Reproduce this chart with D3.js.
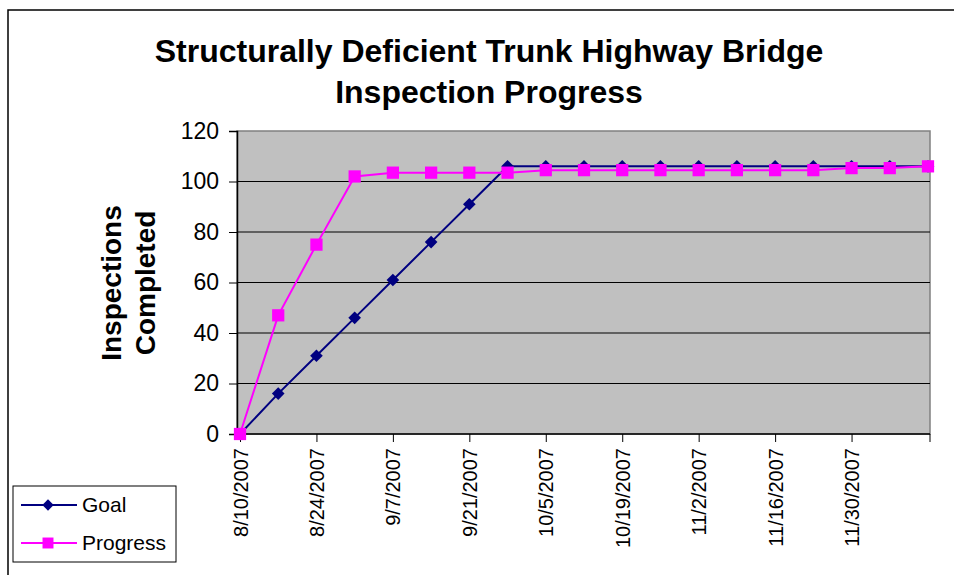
<!DOCTYPE html>
<html>
<head>
<meta charset="utf-8">
<script src="https://cdn.jsdelivr.net/npm/d3@7"></script>
<style>
  html, body { margin: 0; padding: 0; background: #fff; }
  svg { display: block; font-family: Arial, "Liberation Sans", sans-serif; }
</style>
</head>
<body>
<svg id="chart" width="954" height="575"></svg>
<script>
// weekly dates, 8/10/2007 .. 12/14/2007
const dates = ['2007-08-10', '2007-08-17', '2007-08-24', '2007-08-31', '2007-09-07',
  '2007-09-14', '2007-09-21', '2007-09-28', '2007-10-05', '2007-10-12', '2007-10-19',
  '2007-10-26', '2007-11-02', '2007-11-09', '2007-11-16', '2007-11-23', '2007-11-30',
  '2007-12-07', '2007-12-14'];
const goal = [0, 16, 31, 46, 61, 76, 91, 106, 106, 106, 106, 106, 106, 106, 106, 106, 106, 106, 106];
const progress = [0, 47, 75, 102, 103.5, 103.5, 103.5, 103.5, 104.5, 104.5, 104.5, 104.5,
  104.5, 104.5, 104.5, 104.5, 105.3, 105.3, 106];
const xTickLabels = ['8/10/2007', '8/24/2007', '9/7/2007', '9/21/2007', '10/5/2007',
  '10/19/2007', '11/2/2007', '11/16/2007', '11/30/2007'];
const yTicks = [0, 20, 40, 60, 80, 100, 120];

const parse = d3.timeParse('%Y-%m-%d');
const parseLabel = d3.timeParse('%m/%d/%Y');

const svg = d3.select('#chart');
const plot = { left: 237, right: 930, top: 131, bottom: 434 };

const x = d3.scaleTime()
  .domain([parse(dates[0]), parse(dates[dates.length - 1])])
  .range([240, 928]);
const y = d3.scaleLinear().domain([0, 120]).range([plot.bottom, plot.top]);

// outer chart frame (cropped at right/bottom)
svg.append('path')
  .attr('d', 'M8,575 L8,10 L954,10')
  .attr('fill', 'none')
  .attr('stroke', '#000')
  .attr('stroke-width', 1.5);

// title
const title = svg.append('text')
  .attr('text-anchor', 'middle')
  .attr('font-weight', 'bold')
  .attr('font-size', 32)
  .attr('fill', '#000');
title.append('tspan').attr('x', 489).attr('y', 62).text('Structurally Deficient Trunk Highway Bridge');
title.append('tspan').attr('x', 489).attr('y', 103).text('Inspection Progress');

// plot background
svg.append('rect')
  .attr('x', plot.left).attr('y', plot.top)
  .attr('width', plot.right - plot.left).attr('height', plot.bottom - plot.top)
  .attr('fill', '#c0c0c0')
  .attr('stroke', '#808080')
  .attr('stroke-width', 1.5);

// gridlines
svg.append('g')
  .selectAll('line')
  .data(yTicks.filter(d => d > 0 && d < 120))
  .join('line')
  .attr('x1', plot.left).attr('x2', plot.right)
  .attr('y1', d => y(d)).attr('y2', d => y(d))
  .attr('stroke', '#000')
  .attr('stroke-width', 1);

// y axis
const yAxis = svg.append('g')
  .attr('transform', `translate(${plot.left},0)`)
  .call(d3.axisLeft(y).tickValues(yTicks).tickSize(8).tickPadding(10));
yAxis.select('.domain').attr('stroke', '#000').attr('stroke-width', 1.5);
yAxis.selectAll('text').attr('font-size', 23).attr('fill', '#000').attr('font-family', null);

// x axis
const tickDates = xTickLabels.map(parseLabel);
const xAxis = svg.append('g')
  .attr('transform', `translate(0,${plot.bottom})`)
  .call(d3.axisBottom(x).tickValues(tickDates).tickSize(8).tickFormat(d3.timeFormat('%-m/%-d/%Y')));
xAxis.select('.domain')
  .attr('d', `M${plot.left},0H${plot.right}`)
  .attr('stroke', '#000').attr('stroke-width', 1.5);
xAxis.append('line')
  .attr('x1', plot.right).attr('x2', plot.right)
  .attr('y1', 0).attr('y2', 8)
  .attr('stroke', '#000');
xAxis.selectAll('.tick text')
  .attr('font-size', 20)
  .attr('fill', '#000')
  .attr('font-family', null)
  .attr('text-anchor', 'end')
  .attr('dy', null)
  .attr('y', 0)
  .attr('transform', 'translate(7,14) rotate(-90)');

// y axis title
const yTitle = svg.append('text')
  .attr('transform', 'translate(128,283) rotate(-90)')
  .attr('text-anchor', 'middle')
  .attr('font-weight', 'bold')
  .attr('font-size', 28)
  .attr('fill', '#000');
yTitle.append('tspan').attr('x', 0).attr('y', -7).text('Inspections');
yTitle.append('tspan').attr('x', 0).attr('y', 27).text('Completed');

// series
const series = [
  { name: 'Goal', values: goal, color: '#000080', symbol: d3.symbolSquare, size: 80, rotate: 45 },
  { name: 'Progress', values: progress, color: '#ff00ff', symbol: d3.symbolSquare, size: 150, rotate: 0 }
];

const line = d3.line()
  .x((d, i) => x(parse(dates[i])))
  .y(d => y(d));

series.forEach(s => {
  const g = svg.append('g');
  g.append('path')
    .attr('d', line(s.values))
    .attr('fill', 'none')
    .attr('stroke', s.color)
    .attr('stroke-width', 2);
  g.selectAll('path.marker')
    .data(s.values)
    .join('path')
    .attr('class', 'marker')
    .attr('transform', (d, i) => `translate(${x(parse(dates[i]))},${y(d)}) rotate(${s.rotate})`)
    .attr('d', d3.symbol().type(s.symbol).size(s.size))
    .attr('fill', s.color);
});

// legend
const legend = svg.append('g');
legend.append('rect')
  .attr('x', 13).attr('y', 486)
  .attr('width', 163).attr('height', 76)
  .attr('fill', '#fff')
  .attr('stroke', '#000')
  .attr('stroke-width', 1);
series.forEach((s, i) => {
  const ly = 505 + i * 38;
  legend.append('line')
    .attr('x1', 21).attr('x2', 77)
    .attr('y1', ly).attr('y2', ly)
    .attr('stroke', s.color)
    .attr('stroke-width', 2);
  legend.append('path')
    .attr('transform', `translate(48,${ly}) rotate(${s.rotate})`)
    .attr('d', d3.symbol().type(s.symbol).size(s.size * 0.8))
    .attr('fill', s.color);
  legend.append('text')
    .attr('x', 82).attr('y', ly + 7)
    .attr('font-size', 21)
    .attr('fill', '#000')
    .text(s.name);
});
</script>
</body>
</html>
